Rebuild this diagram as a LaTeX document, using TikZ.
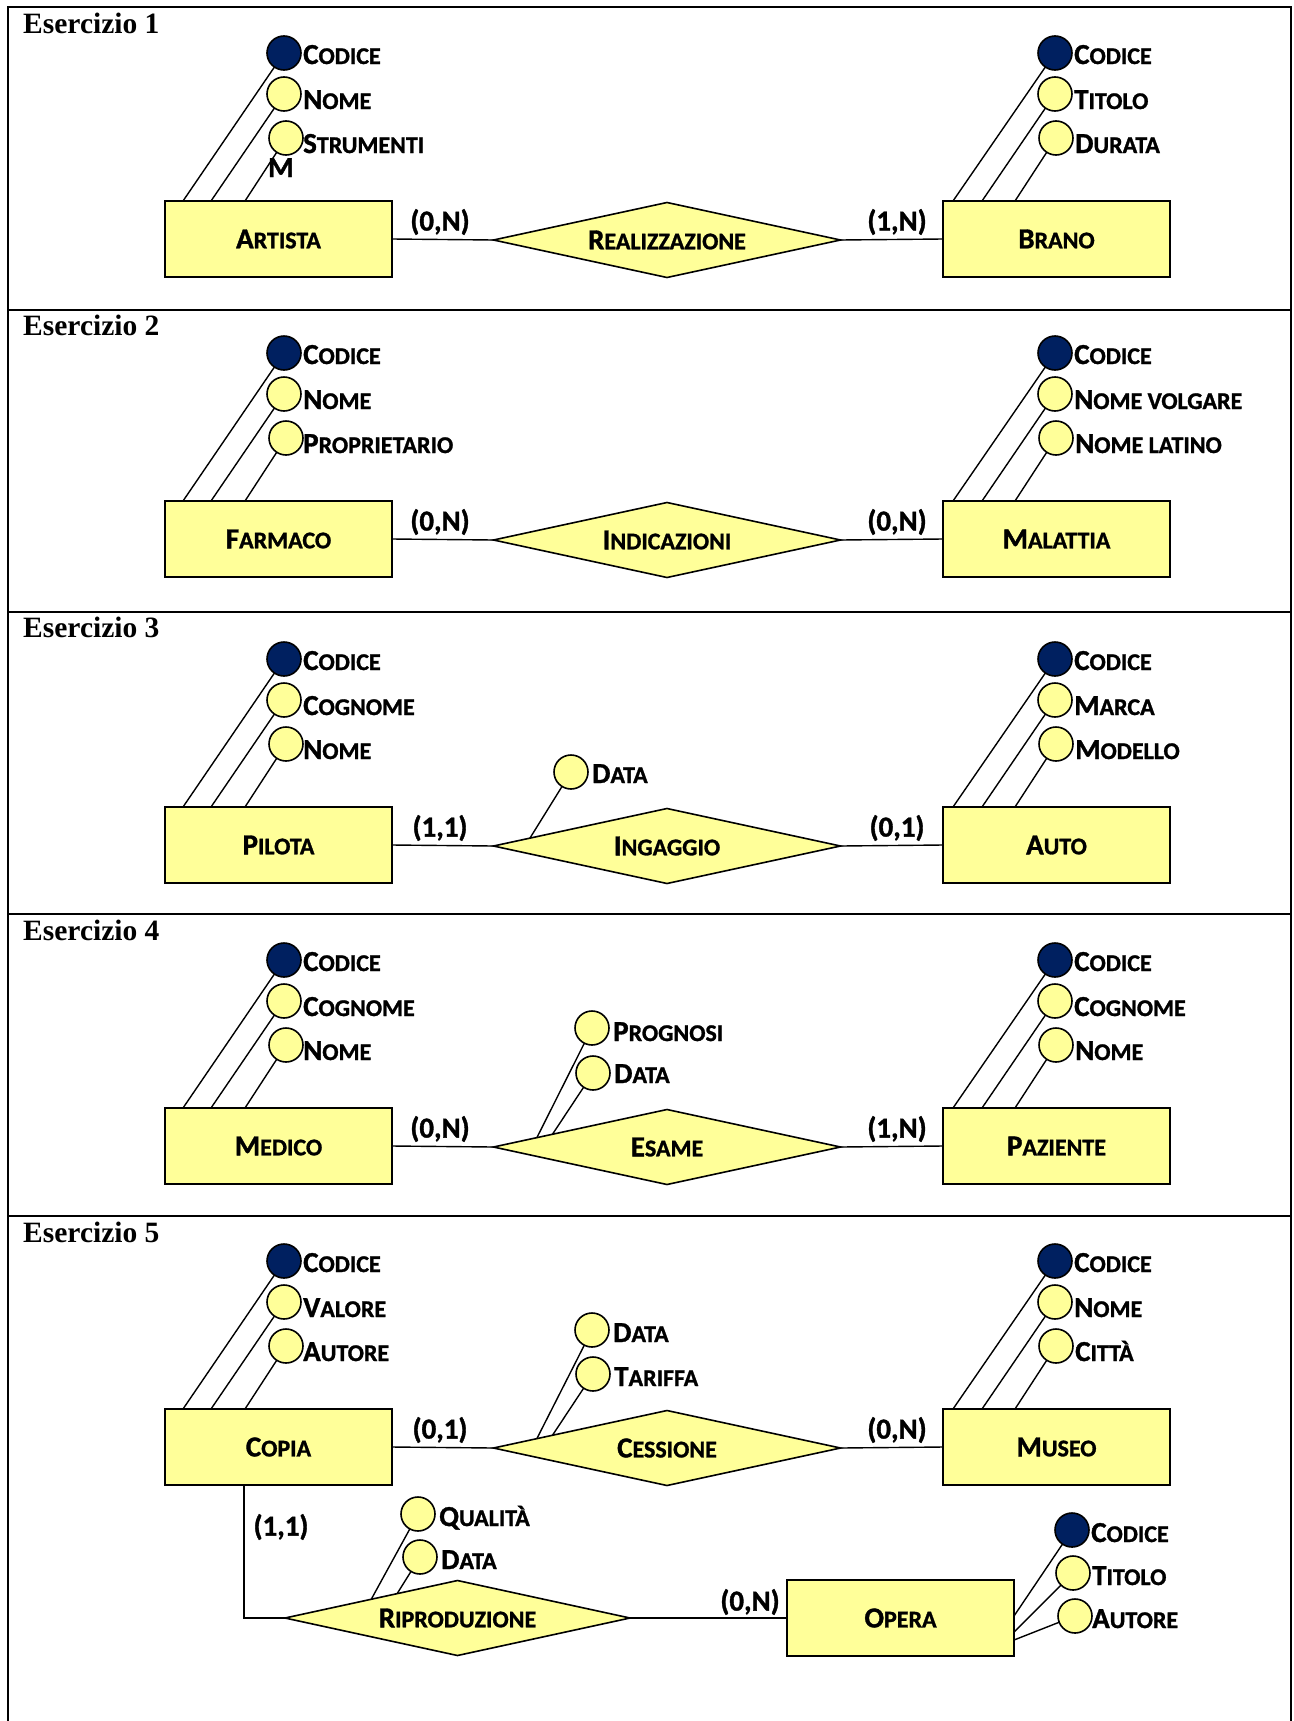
\documentclass[tikz,border=0pt]{standalone}
\usepackage{fontspec}
\usetikzlibrary{shapes.geometric,calc}
\newfontfamily\carl{Carlito}[BoldFeatures={FakeBold=1.2}]
\newfontfamily\garm{Liberation Serif}
\definecolor{yel}{HTML}{FFFF99}
\definecolor{navy}{HTML}{002060}
\newcommand\SC[2]{{\fontsize{29}{29}\selectfont #1}{\fontsize{24}{24}\selectfont #2}}
\tikzset{
  ent/.style={draw=black, line width=1.6pt, fill=yel, minimum width=227pt, minimum height=76pt, inner sep=0pt, outer sep=0pt, font=\carl\bfseries},
  rel/.style={diamond, aspect=4.63, draw=black, line width=1.6pt, fill=yel, minimum width=347pt, minimum height=75pt, inner sep=0pt, outer sep=0pt, font=\carl\bfseries},
  att/.style={circle, draw=black, line width=1.6pt, fill=yel, minimum size=34pt, inner sep=0pt, outer sep=0pt},
  key/.style={att, fill=navy},
  atxt/.style={anchor=base west, inner sep=0pt, font=\carl\bfseries},
  card/.style={inner sep=0pt, font=\carl\bfseries\fontsize{29}{29}\selectfont},
  ttl/.style={anchor=base west, inner sep=0pt, font=\garm\bfseries\fontsize{29.5}{29.5}\selectfont},
  conn/.style={line width=1.4pt},
  frm/.style={line width=2pt}
}
% left entity with three attributes: #1 offset, #2 name, #3 label, #4-#6 attribute texts
\newcommand\leftent[6]{%
  \node[ent] (#2) at ({278.5},{239+#1}) {#3};
  \node[key] (#2k) at ({284},{53+#1}) {};
  \node[att] (#2a) at ({284},{94+#1}) {};
  \node[att] (#2b) at ({286},{138+#1}) {};
  \node[atxt] (#2kt) at ($(#2k)+(19,11)$) {#4};
  \node[atxt] (#2at) at ($(#2a)+(19,15)$) {#5};
  \node[atxt] (#2bt) at ($(#2b)+(17,15)$) {#6};
  \draw[conn] (#2k) -- ([xshift=18pt]#2.north west);
  \draw[conn] (#2a) -- ([xshift=46pt]#2.north west);
  \draw[conn] (#2b) -- ([xshift=80pt]#2.north west);
}
\newcommand\rightent[6]{%
  \node[ent] (#2) at ({1056.5},{239+#1}) {#3};
  \node[key] (#2k) at ({1055},{53+#1}) {};
  \node[att] (#2a) at ({1055},{94+#1}) {};
  \node[att] (#2b) at ({1056},{138+#1}) {};
  \node[atxt] (#2kt) at ($(#2k)+(19,11)$) {#4};
  \node[atxt] (#2at) at ($(#2a)+(19,15)$) {#5};
  \node[atxt] (#2bt) at ($(#2b)+(19,15)$) {#6};
  \draw[conn] (#2k) -- ([xshift=10pt]#2.north west);
  \draw[conn] (#2a) -- ([xshift=39pt]#2.north west);
  \draw[conn] (#2b) -- ([xshift=72pt]#2.north west);
}
% relationship: #1 offset, #2 name, #3 label, #4 left entity, #5 right entity, #6 left card, #7 right card
\newcommand\relat[7]{%
  \node[rel] (#2) at ({667},{240+#1}) {#3};
  \draw[conn] (#4.east) -- (#2.west);
  \draw[conn] (#2.east) -- (#5.west);
  \node[card] (#2lc) at ({440},{222+#1}) {#6};
  \node[card] (#2rc) at ({897},{222+#1}) {#7};
}
\begin{document}
\begin{tikzpicture}[x=1pt,y=-1pt]
\useasboundingbox (0,0) rectangle (1293,1721);
% frame
\draw[frm] (7.5,1721) -- (7.5,7) -- (1290.5,7) -- (1290.5,1721);
\draw[frm] (7.5,310) -- (1290.5,310);
\draw[frm] (7.5,612) -- (1290.5,612);
\draw[frm] (7.5,914) -- (1290.5,914);
\draw[frm] (7.5,1216) -- (1290.5,1216);
\node[ttl] (t1) at (23,33) {Esercizio 1};
\node[ttl] (t2) at (23,335) {Esercizio 2};
\node[ttl] (t3) at (23,637) {Esercizio 3};
\node[ttl] (t4) at (23,940) {Esercizio 4};
\node[ttl] (t5) at (23,1242) {Esercizio 5};
% Esercizio 1
\leftent{0}{E1L}{\SC{A}{RTISTA}}{\SC{C}{ODICE}}{\SC{N}{OME}}{\SC{S}{TRUMENTI}}
\node[atxt] (E1m) at (268,177) {\fontsize{29}{29}\selectfont M};
\rightent{0}{E1R}{\SC{B}{RANO}}{\SC{C}{ODICE}}{\SC{T}{ITOLO}}{\SC{D}{URATA}}
\relat{0}{R1}{\SC{R}{EALIZZAZIONE}}{E1L}{E1R}{(0,N)}{(1,N)}
% Esercizio 2
\leftent{300}{E2L}{\SC{F}{ARMACO}}{\SC{C}{ODICE}}{\SC{N}{OME}}{\SC{P}{ROPRIETARIO}}
\rightent{300}{E2R}{\SC{M}{ALATTIA}}{\SC{C}{ODICE}}{\SC{N}{OME VOLGARE}}{\SC{N}{OME LATINO}}
\relat{300}{R2}{\SC{I}{NDICAZIONI}}{E2L}{E2R}{(0,N)}{(0,N)}
% Esercizio 3
\leftent{606}{E3L}{\SC{P}{ILOTA}}{\SC{C}{ODICE}}{\SC{C}{OGNOME}}{\SC{N}{OME}}
\rightent{606}{E3R}{\SC{A}{UTO}}{\SC{C}{ODICE}}{\SC{M}{ARCA}}{\SC{M}{ODELLO}}
\relat{606}{R3}{\SC{I}{NGAGGIO}}{E3L}{E3R}{(1,1)}{(0,1)}
\node[att] (R3a) at (571,772) {};
\node[atxt] (R3at) at ($(R3a)+(21,11)$) {\SC{D}{ATA}};
\draw[conn] (R3a) -- ($(R3.west)!0.21!(R3.north)$);
% Esercizio 4
\leftent{907}{E4L}{\SC{M}{EDICO}}{\SC{C}{ODICE}}{\SC{C}{OGNOME}}{\SC{N}{OME}}
\rightent{907}{E4R}{\SC{P}{AZIENTE}}{\SC{C}{ODICE}}{\SC{C}{OGNOME}}{\SC{N}{OME}}
\relat{907}{R4}{\SC{E}{SAME}}{E4L}{E4R}{(0,N)}{(1,N)}
\node[att] (R4a) at (592,1028) {};
\node[att] (R4b) at (593,1073) {};
\node[atxt] (R4at) at ($(R4a)+(21,13)$) {\SC{P}{ROGNOSI}};
\node[atxt] (R4bt) at ($(R4b)+(21,10)$) {\SC{D}{ATA}};
\draw[conn] (R4a) -- ($(R4.west)!0.25!(R4.north)$);
\draw[conn] (R4b) -- ($(R4.west)!0.34!(R4.north)$);
% Esercizio 5
\leftent{1208}{E5L}{\SC{C}{OPIA}}{\SC{C}{ODICE}}{\SC{V}{ALORE}}{\SC{A}{UTORE}}
\rightent{1208}{E5R}{\SC{M}{USEO}}{\SC{C}{ODICE}}{\SC{N}{OME}}{\SC{C}{ITTÀ}}
\relat{1208}{R5}{\SC{C}{ESSIONE}}{E5L}{E5R}{(0,1)}{(0,N)}
\node[att] (R5a) at (592,1330) {};
\node[att] (R5b) at (593,1374) {};
\node[atxt] (R5at) at ($(R5a)+(21,12)$) {\SC{D}{ATA}};
\node[atxt] (R5bt) at ($(R5b)+(21,12)$) {\SC{T}{ARIFFA}};
\draw[conn] (R5a) -- ($(R5.west)!0.25!(R5.north)$);
\draw[conn] (R5b) -- ($(R5.west)!0.34!(R5.north)$);
% Riproduzione and Opera
\node[rel, minimum width=345pt] (R6) at (457.5,1618) {\SC{R}{IPRODUZIONE}};
\node[ent] (E6) at (900.5,1618) {\SC{O}{PERA}};
\draw[conn] ([xshift=79pt]E5L.south west) |- (R6.west);
\draw[conn] (R6.east) -- (E6.west);
\node[card] (R6lc) at (281,1527) {(1,1)};
\node[card] (R6rc) at (750,1602) {(0,N)};
\node[att] (R6a) at (418,1514) {};
\node[att] (R6b) at (420,1557) {};
\node[atxt] (R6at) at ($(R6a)+(21,12)$) {\SC{Q}{UALITÀ}};
\node[atxt] (R6bt) at ($(R6b)+(21,12)$) {\SC{D}{ATA}};
\draw[conn] (R6a) -- ($(R6.west)!0.50!(R6.north)$);
\draw[conn] (R6b) -- ($(R6.west)!0.65!(R6.north)$);
\node[key] (E6k) at (1072,1530) {};
\node[att] (E6a) at (1073,1573) {};
\node[att] (E6b) at (1075,1616) {};
\node[atxt] (E6kt) at ($(E6k)+(19,12)$) {\SC{C}{ODICE}};
\node[atxt] (E6at) at ($(E6a)+(19,12)$) {\SC{T}{ITOLO}};
\node[atxt] (E6bt) at ($(E6b)+(17,12)$) {\SC{A}{UTORE}};
\draw[conn] (E6k) -- ($(E6.north east)+(0,36)$);
\draw[conn] (E6a) -- ($(E6.north east)+(0,52)$);
\draw[conn] (E6b) -- ($(E6.north east)+(0,60)$);
\end{tikzpicture}
\end{document}
